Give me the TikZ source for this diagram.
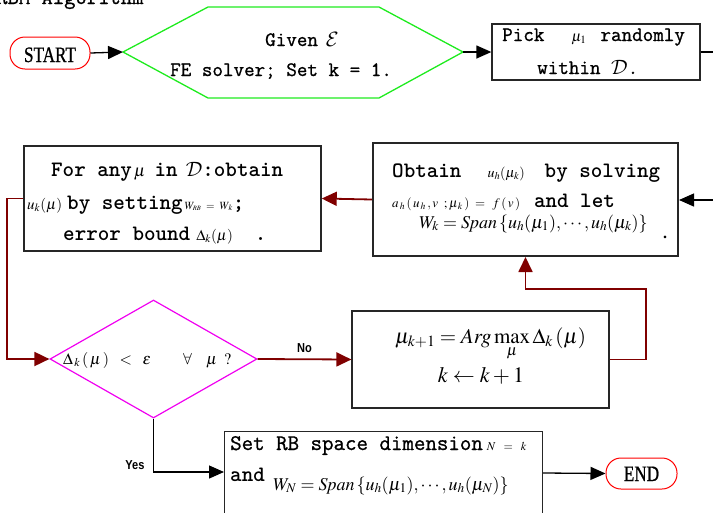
\documentclass[tikz,border=0pt]{standalone}
\usepackage{mathptmx}
\usepackage[no-math]{fontspec}
\setmainfont{Liberation Serif}
\DeclareMathAlphabet{\mathcal}{OMS}{cmsy}{m}{n}
\newfontfamily\condfont{Liberation Serif}[FakeStretch=0.78,FakeBold=0.8]
\newfontfamily\labfont{Liberation Sans}[FakeStretch=0.85]
\newfontfamily\medmono{Latin Modern Mono}[FakeBold=1.0]
\usetikzlibrary{arrows.meta,shapes.geometric}
\definecolor{maroon}{RGB}{128,0,0}
\definecolor{hexgreen}{RGB}{30,235,30}
\definecolor{dmag}{RGB}{240,0,240}
\newcommand\fs[1]{\fontsize{#1}{#1}\selectfont}
\newcommand\monor{\medmono\fs{20.5}}
\newcommand\monob{\ttfamily\bfseries\fs{22}}
\begin{document}
\begin{tikzpicture}[x=1pt,y=-1pt,
  box/.style={draw=black!85, line width=1.2pt, inner sep=0pt},
  term/.style={draw=red, line width=1pt, rounded corners=15pt, inner sep=0pt},
  arr/.style={line width=1.3pt, -{Triangle[length=15pt,width=13pt]}},
  marr/.style={draw=maroon, line width=1.8pt, -{Triangle[length=15pt,width=14pt]}},
  txt/.style={anchor=base west, inner sep=0pt},
  lab/.style={anchor=base, inner sep=0pt, font=\labfont\bfseries\fs{13}}]
\useasboundingbox (0,0) rectangle (713,512);
\clip (0,0) rectangle (713,512);

% title (cut off at top)
\node[txt, font=\medmono\fs{22}] (title) at (-4,4) {RBM Algorithm};

% START
\node[term, minimum width=80pt, minimum height=32pt] (start) at (50,53) {};
\node[anchor=base, inner sep=0pt, font=\condfont\fs{22}] (startt) at (50,62) {START};

% hexagon
\coordinate (gL) at (123,52);
\coordinate (gTL) at (208,7);
\coordinate (gTR) at (379,7);
\coordinate (gR) at (463,52);
\coordinate (gBR) at (379,98);
\coordinate (gBL) at (208,98);
\draw[draw=hexgreen, line width=1.3pt] (gL) -- (gTL) -- (gTR) -- (gR) -- (gBR) -- (gBL) -- cycle;
\node[txt, font=\monor] (g1) at (265,46) {Given\hspace{8pt}{\fs{20}$\mathcal{E}$}};
\node[txt, font=\monor] (g2) at (170,76) {FE solver; Set k = 1.};

% Pick box
\node[box, line width=1.3pt, minimum width=208pt, minimum height=56pt] (pick) at (596,52) {};
\node[txt, font=\monor] (p1) at (502,41) {Pick\hspace{27pt}{\fs{15}$\mu_1$}\hspace{14pt}randomly};
\node[txt, font=\monor] (p2) at (537,74) {within {\fs{20}$\mathcal{D}$}.};

% Obtain box
\node[box, line width=2pt, minimum width=305pt, minimum height=113pt] (obtain) at (525.5,199.5) {};
\node[txt, font=\monob] (o1) at (392,177) {Obtain\hspace{26pt}{\mdseries\fs{14}$u_h(\mu_k)$}\hspace{20pt}by solving};
\node[txt, font=\monob] (o2) at (392,207) {{\mdseries\fs{13}$a_{\,h}\,(\,u_{\,h}\,,v\;\;;\mu_{\,k}\,)\;=\;\,f\,(\,v\,)$}\hspace{14pt}and let};
\node[txt, font=\fs{18}] (o3) at (419,228) {$W_k = \mathit{Span}\,\{u_h(\mu_1),\cdots,u_h(\mu_k)\}$};
\node[txt, font=\fs{16}\bfseries] (o4) at (663,238) {.};

% For any box
\node[box, line width=1.5pt, minimum width=297pt, minimum height=105pt] (forany) at (172.5,198.5) {};
\node[txt, font=\monob] (f1) at (51,176) {For any\hspace{2pt}{\mdseries\fs{17}$\mu$}\hspace{9pt}in\hspace{8pt}{\fs{20}$\mathcal{D}$}:obtain};
\node[txt, font=\monob] (f2) at (27,209) {{\mdseries\fs{15}$u_k(\mu)$}\hspace{5pt}by setting\hspace{2pt}{\mdseries\fs{11}$W_{\scriptscriptstyle RB}\;=\;W_{\,k}$};};
\node[txt, font=\monob] (f3) at (63,240) {error bound\hspace{6pt}{\mdseries\fs{15}$\Delta_k(\mu)$}\hspace{22pt}.};

% arrows between Obtain and For any
\draw[marr] (obtain.west) -- (forany.east);

% diamond
\node[draw=dmag, line width=1.2pt, diamond, inner sep=0pt, minimum width=207pt, minimum height=118pt] (dia) at (153.5,359) {};
\node[txt, font=\fs{16}] (d1) at (63,364) {$\Delta_{\,k}\,(\,\mu\,)\;\;<\;\;\varepsilon\qquad\forall\;\;\;\;\mu\;\;?$};
\draw[marr] (forany.west) -- ++(-16,0) |- (dia.west);

% Argmax box
\node[box, line width=1.2pt, minimum width=257pt, minimum height=97pt] (argmax) at (480.5,359.5) {};
\node[txt, font=\fs{21}] (a1) at (395,343) {$\mu_{k+1} = \mathit{Arg}\max\limits_{\mu}\Delta_k\,(\mu)$};
\node[anchor=base, inner sep=0pt, font=\fs{22}] (a2) at (481,382) {$k \leftarrow k+1$};
\draw[marr] (dia.east) -- node[lab, above=6pt] (no) {No} (argmax.west);
\coordinate (loopC) at (646,289);
\draw[marr] (argmax.east) -| (loopC) -| (obtain.south);

% Set RB box
\node[box, line width=1.2pt, anchor=north west, minimum width=318pt, minimum height=120pt] (setrb) at (224,431) {};
\node[txt, font=\medmono\fs{22.3}] (s1) at (230,450) {Set RB space dimension\hspace{4pt}{\fs{12}$N\;\;=\;\;k$}};
\node[txt, font=\monob] (s2) at (230,481) {and};
\node[txt, font=\fs{18}] (s3) at (273,490) {$W_N = \mathit{Span}\,\{u_h(\mu_1),\cdots,u_h(\mu_N)\}$};
\draw[arr] (dia.south) |- (setrb.north west |- 0,472);
\node[lab] (yes) at (135,469) {Yes};

% END
\node[term, minimum width=71pt, minimum height=31pt] (endn) at (641.5,473.5) {};
\node[anchor=base, inner sep=0pt, font=\condfont\fs{22}] (endt) at (641.5,481) {END};
\draw[arr] (setrb.east |- 0,473) -- (endn.west);

% black connectors
\draw[arr] (start.east) -- (gL);
\draw[arr] (gR) -- (pick.west);
\coordinate (offA) at (725,52);
\coordinate (offB) at (725,200);
\draw[arr] (pick.east) -- (offA) -- (offB) -- (obtain.east |- offB);
\end{tikzpicture}
\end{document}
